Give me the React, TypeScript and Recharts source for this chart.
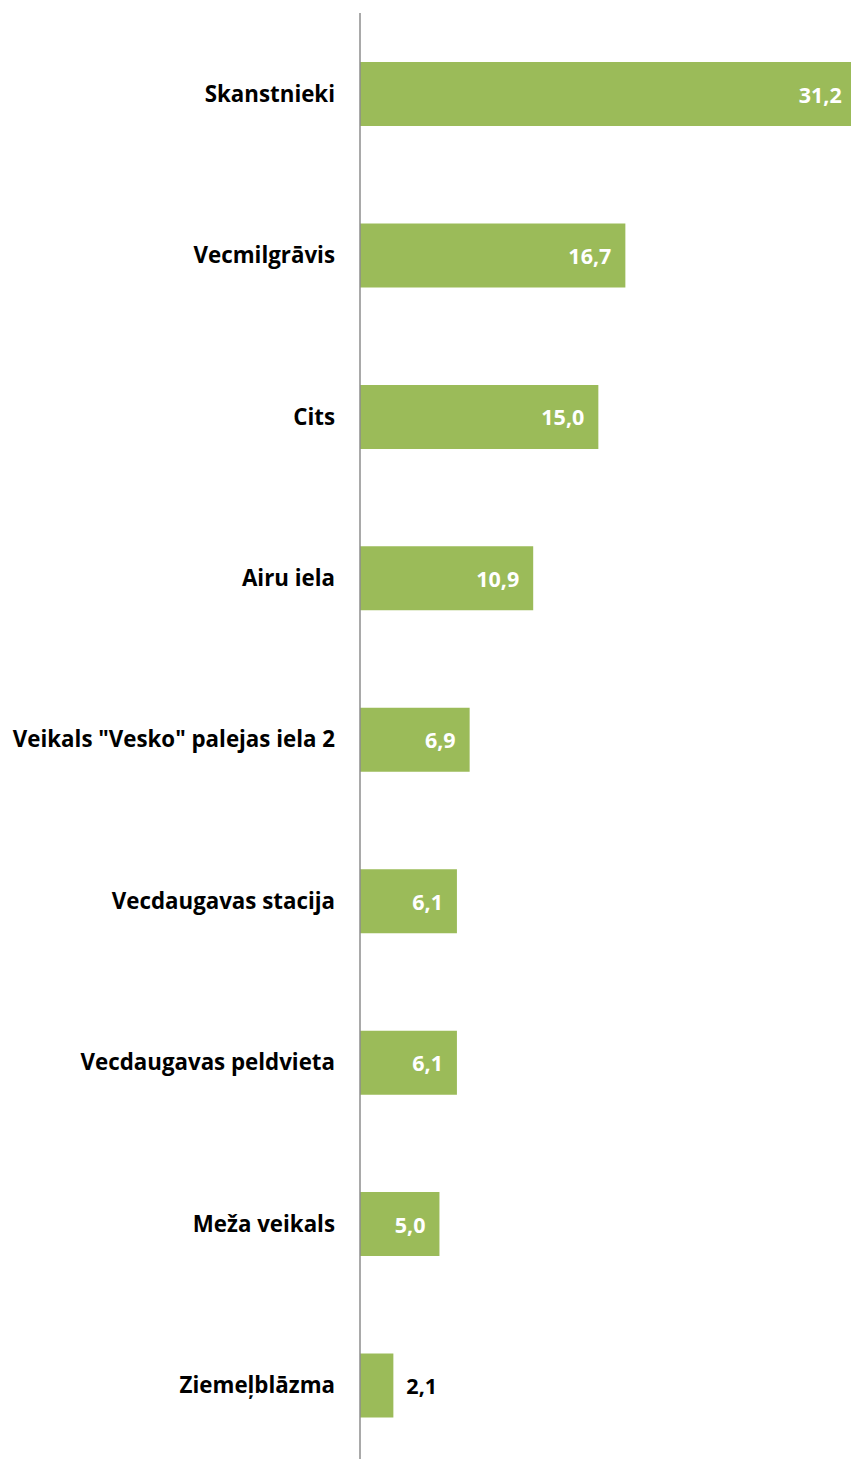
import { BarChart, Bar, XAxis, YAxis, LabelList } from "recharts";

const places = [
  "Skanstnieki",
  "Vecmilgrāvis",
  "Cits",
  "Airu iela",
  'Veikals "Vesko" palejas iela 2',
  "Vecdaugavas stacija",
  "Vecdaugavas peldvieta",
  "Meža veikals",
  "Ziemeļblāzma",
];

const shares = [31.2, 16.7, 15.0, 10.9, 6.9, 6.1, 6.1, 5.0, 2.1];

const data = places.map((name, i) => ({ name, value: shares[i] }));

const FONT = "'Open Sans', Lato, sans-serif";

function ValueLabel(props: any) {
  const { x, y, width, height, value } = props;
  const txt = Number(value).toFixed(1).replace(".", ",");
  const inside = width > 45;
  return (
    <text
      x={inside ? x + width - 14 : x + width + 13}
      y={y + height / 2}
      textAnchor={inside ? "end" : "start"}
      dominantBaseline="central"
      fill={inside ? "#ffffff" : "#000000"}
      fontFamily={FONT}
      fontWeight={700}
      fontSize={21.5}
    >
      {txt}
    </text>
  );
}

export default function App() {
  return (
    <div style={{ position: "absolute", left: 0, top: 0 }}>
      <BarChart
        width={851}
        height={1466}
        data={data}
        layout="vertical"
        margin={{ top: 13, right: 0, left: 0, bottom: 0 }}
        barSize={64}
      >
        <XAxis type="number" domain={[0, 30.9]} allowDataOverflow hide />
        <YAxis
          type="category"
          dataKey="name"
          width={360}
          tickLine={false}
          tickSize={0}
          tickMargin={25}
          axisLine={{ stroke: "#8c8c8c", strokeWidth: 1.5 }}
          tick={{ fill: "#000000", fontSize: 22.3, fontWeight: 700, fontFamily: FONT }}
          interval={0}
        />
        <Bar dataKey="value" fill="#9bbb59" isAnimationActive={false}>
          <LabelList dataKey="value" content={ValueLabel} />
        </Bar>
      </BarChart>
    </div>
  );
}
